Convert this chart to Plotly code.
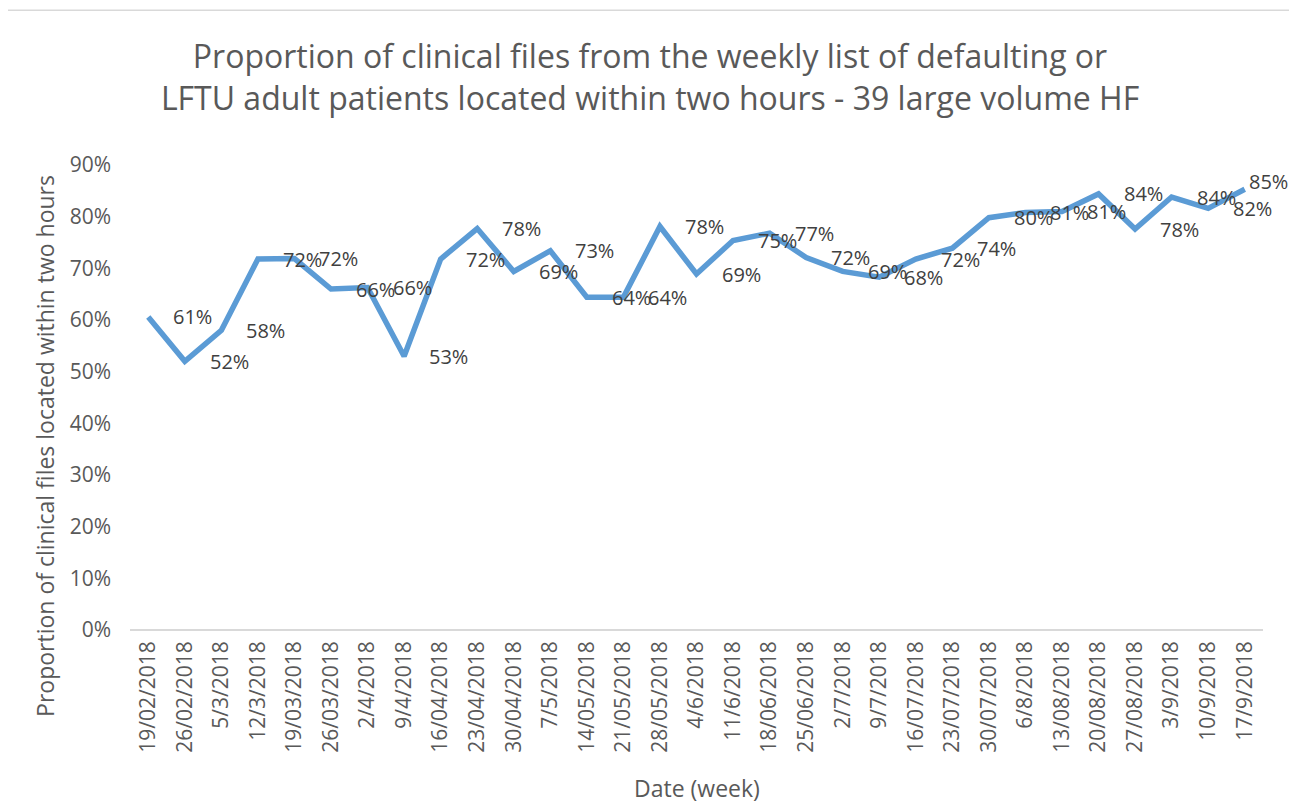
import plotly.graph_objects as go

dates = ["19/02/2018", "26/02/2018", "5/3/2018", "12/3/2018", "19/03/2018", "26/03/2018",
         "2/4/2018", "9/4/2018", "16/04/2018", "23/04/2018", "30/04/2018", "7/5/2018",
         "14/05/2018", "21/05/2018", "28/05/2018", "4/6/2018", "11/6/2018", "18/06/2018",
         "25/06/2018", "2/7/2018", "9/7/2018", "16/07/2018", "23/07/2018", "30/07/2018",
         "6/8/2018", "13/08/2018", "20/08/2018", "27/08/2018", "3/9/2018", "10/9/2018",
         "17/9/2018"]

proportion = [0.606, 0.520, 0.580, 0.718, 0.719, 0.660, 0.663, 0.530, 0.718, 0.777,
              0.694, 0.734, 0.644, 0.644, 0.781, 0.689, 0.754, 0.768, 0.721, 0.694,
              0.683, 0.718, 0.739, 0.798, 0.808, 0.810, 0.844, 0.776, 0.838, 0.816,
              0.853]

y_ticks = [0, 0.1, 0.2, 0.3, 0.4, 0.5, 0.6, 0.7, 0.8, 0.9]

title_text = ("Proportion of clinical files from the weekly list of defaulting or<br>"
              "LFTU adult patients located within two hours - 39 large volume HF")
y_title = "Proportion of clinical files located within two hours"
x_title = "Date (week)"

idx = list(range(len(dates)))
labels = [f"{round(v * 100):.0f}%" for v in proportion]

FONT = "Open Sans"
GREY = "#595959"

fig = go.Figure()
fig.add_trace(go.Scatter(
    x=idx, y=proportion,
    mode="lines",
    line=dict(color="#5B9BD5", width=5.5),
    hoverinfo="skip",
))

# data labels placed to the right of each point (last one kept inside the chart)
for i, (xv, yv, lab) in enumerate(zip(idx, proportion, labels)):
    last = i == len(idx) - 1
    fig.add_annotation(
        x=xv, y=yv, xref="x", yref="y", text=lab, showarrow=False,
        xanchor="left", yanchor="middle",
        xshift=2 if last else 23, yshift=8 if last else 0,
        font=dict(family=FONT, size=20, color="#404040"),
    )

fig.update_layout(
    width=1297, height=806,
    margin=dict(l=122, r=42, t=157, b=184),
    paper_bgcolor="white", plot_bgcolor="white",
    showlegend=False,
    title=dict(text=title_text, x=0.495, xref="container", y=0.925, yref="container",
               xanchor="center", yanchor="middle",
               font=dict(family=FONT, size=32, color=GREY)),
    font=dict(family=FONT, color=GREY),
)

fig.update_xaxes(
    range=[-0.5, len(dates) - 0.5],
    tickmode="array", tickvals=idx, ticktext=dates,
    tickangle=-90, tickfont=dict(family=FONT, size=21, color=GREY),
    showgrid=False, zeroline=False,
    showline=False, ticks="", ticklabelstandoff=6,
)

fig.update_yaxes(
    range=[0, 0.9],
    tickmode="array", tickvals=y_ticks, tickformat=".0%",
    tickfont=dict(family=FONT, size=21, color=GREY),
    showgrid=False, zeroline=True, zerolinecolor="#D9D9D9", zerolinewidth=1.5,
    showline=False, ticks="", ticklabelstandoff=18,
)

# axis titles
fig.add_annotation(
    text=y_title, textangle=-90, xref="paper", yref="paper",
    x=-0.075, y=0.396, xanchor="center", yanchor="middle", showarrow=False,
    font=dict(family=FONT, size=23, color=GREY),
)
fig.add_annotation(
    text=x_title, xref="paper", yref="paper",
    x=0.5, y=-0.34, xanchor="center", yanchor="middle", showarrow=False,
    font=dict(family=FONT, size=23, color=GREY),
)

# chart border
fig.add_shape(type="rect", xref="paper", yref="paper",
              x0=-0.1086, x1=1.0256, y0=-0.45, y1=1.333,
              line=dict(color="#D9D9D9", width=1.5), fillcolor="rgba(0,0,0,0)",
              layer="above")

fig.write_html("out.html")
